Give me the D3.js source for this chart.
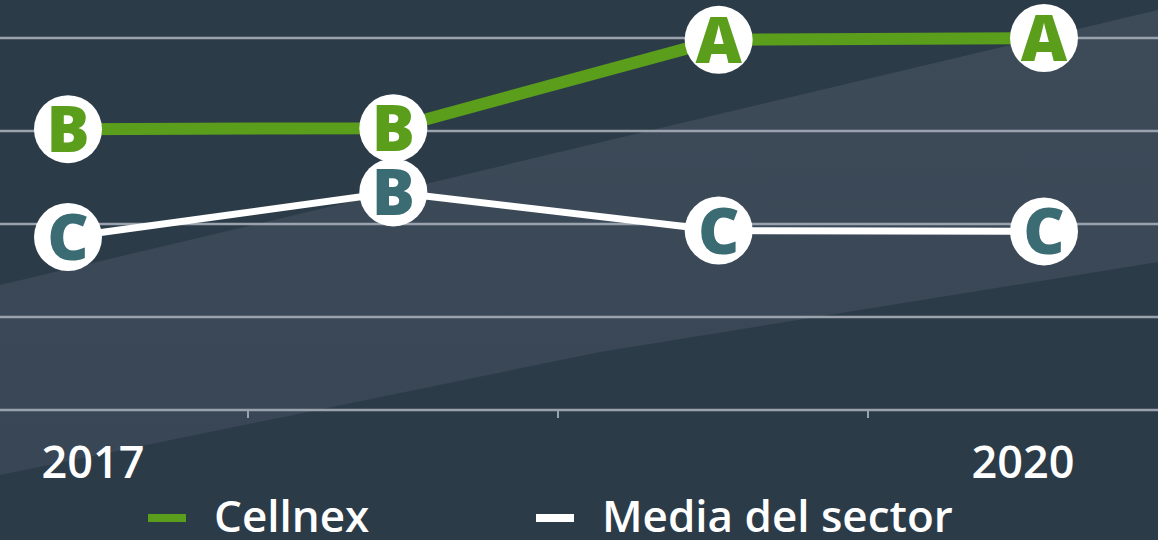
<!DOCTYPE html>
<html>
<head>
<meta charset="utf-8">
<script src="https://cdn.jsdelivr.net/npm/d3@7"></script>
<style>
  html, body { margin: 0; padding: 0; background: #2c3b48; }
  svg { display: block; }
  text { font-family: "Open Sans", "DejaVu Sans", sans-serif; }
</style>
</head>
<body>
<svg id="chart" width="1158" height="540"></svg>
<script>
// ---- data ----
const years = ["2017", "2018", "2019", "2020"];
const yearLabels = ["2017", "", "", "2020"];
const ratingLevels = [1, 2, 3, 4, 5];          // A, B, C, D, baseline
const cellnexValues = [1.98, 1.97, 1.02, 1.0];
const cellnexLabels = ["B", "B", "A", "A"];
const sectorValues = [3.14, 2.66, 3.07, 3.08];
const sectorLabels = ["C", "B", "C", "C"];
const seriesNames = ["Cellnex", "Media del sector"];

// ---- setup ----
const W = 1158, H = 540;
const svg = d3.select("#chart");

// background band (decorative)
const defs = svg.append("defs");
const grad = defs.append("linearGradient").attr("id", "band")
  .attr("x1", "0").attr("y1", "1").attr("x2", "0").attr("y2", "0");
grad.append("stop").attr("offset", "0").attr("stop-color", "#384655");
grad.append("stop").attr("offset", "1").attr("stop-color", "#3d4b59");
svg.append("rect").attr("width", W).attr("height", H).attr("fill", "#2c3b48");
svg.append("path")
  .attr("d", "M0,285 L1158,10 L1158,262 L600,352 L0,475 Z")
  .attr("fill", "url(#band)");

// scales
const xBand = d3.scaleBand().domain(years).range([-62, 1178]);
const xPt = d3.scalePoint().domain(years).range([68, 1044]);
const y = d3.scaleLinear().domain([1, 5]).range([38, 410]);

// gridlines
svg.append("g").selectAll("line").data(ratingLevels).join("line")
  .attr("x1", 0).attr("x2", W)
  .attr("y1", d => y(d)).attr("y2", d => y(d))
  .attr("stroke", "#9aa3ad").attr("stroke-width", 2.5);

// ticks at category boundaries
svg.append("g").selectAll("line").data(years.slice(1)).join("line")
  .attr("x1", d => xBand(d)).attr("x2", d => xBand(d))
  .attr("y1", y(5)).attr("y2", y(5) + 8)
  .attr("stroke", "#9aa3ad").attr("stroke-width", 2);

// x labels
svg.append("g").selectAll("text").data(years).join("text")
  .attr("x", d => xBand(d) + xBand.bandwidth() / 2)
  .attr("y", 478)
  .attr("text-anchor", "middle")
  .attr("fill", "#ffffff")
  .attr("font-size", 45)
  .attr("font-weight", 600)
  .text((d, i) => yearLabels[i]);

// lines
const line = d3.line().x((d, i) => xPt(years[i])).y(d => y(d));
svg.append("path").datum(sectorValues).attr("d", line)
  .attr("fill", "none").attr("stroke", "#ffffff").attr("stroke-width", 7);
svg.append("path").datum(cellnexValues).attr("d", line)
  .attr("fill", "none").attr("stroke", "#5a9e1c").attr("stroke-width", 12);

function markers(values, labels, color) {
  const g = svg.append("g").selectAll("g").data(values).join("g")
    .attr("transform", (d, i) => `translate(${xPt(years[i])},${y(d)})`);
  g.append("circle").attr("r", 34).attr("fill", "#ffffff");
  g.append("text")
    .attr("text-anchor", "middle")
    .attr("dy", "0.36em")
    .attr("font-size", 64)
    .attr("font-weight", 800)
    .attr("fill", color)
    .text((d, i) => labels[i]);
}
markers(sectorValues, sectorLabels, "#3b6b73");
markers(cellnexValues, cellnexLabels, "#5a9e1c");

// legend
const legendX = [148, 536];
const legendColors = ["#5a9e1c", "#ffffff"];
const lg = svg.append("g").selectAll("g").data(seriesNames).join("g")
  .attr("transform", (d, i) => `translate(${legendX[i]},0)`);
lg.append("rect").attr("x", 0).attr("y", 514).attr("width", 38).attr("height", 8)
  .attr("fill", (d, i) => legendColors[i]);
lg.append("text").attr("x", 66).attr("y", 532)
  .attr("fill", "#ffffff").attr("font-size", 44).attr("font-weight", 600)
  .text(d => d);
</script>
</body>
</html>
